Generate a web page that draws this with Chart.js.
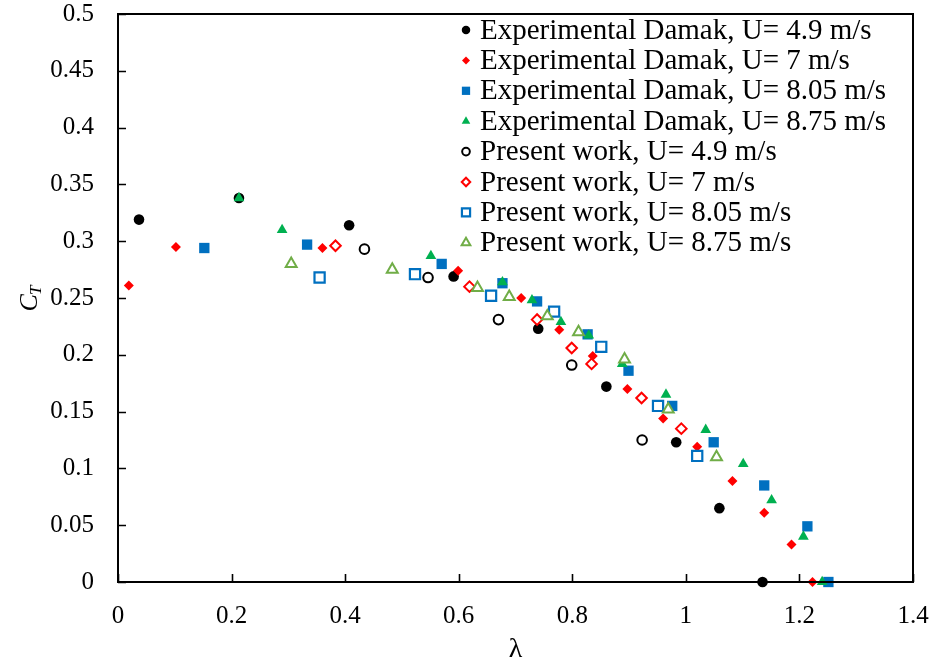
<!DOCTYPE html>
<html>
<head>
<meta charset="utf-8">
<script src="https://cdn.jsdelivr.net/npm/chart.js@4/dist/chart.umd.min.js"></script>
<style>
  html, body { margin: 0; padding: 0; background: #fff; }
</style>
</head>
<body>
<canvas id="ctChart" width="934" height="668"></canvas>
<script>
// Thrust coefficient vs tip speed ratio
const seriesLabels = [
  "Experimental Damak, U= 4.9 m/s",
  "Experimental Damak, U= 7 m/s",
  "Experimental Damak, U= 8.05 m/s",
  "Experimental Damak, U= 8.75 m/s",
  "Present work, U= 4.9 m/s",
  "Present work, U= 7 m/s",
  "Present work, U= 8.05 m/s",
  "Present work, U= 8.75 m/s"
];

// experimental, U = 4.9
const expLam49 = [0.037, 0.213, 0.407, 0.591, 0.740, 0.860, 0.983, 1.059, 1.135];
const expCt49  = [0.319, 0.338, 0.314, 0.269, 0.223, 0.172, 0.123, 0.065, 0.000];
// experimental, U = 7
const expLam7 = [0.019, 0.102, 0.360, 0.599, 0.710, 0.777, 0.836, 0.897, 0.960, 1.020, 1.082, 1.138, 1.186, 1.223];
const expCt7  = [0.261, 0.295, 0.294, 0.274, 0.250, 0.222, 0.199, 0.170, 0.144, 0.119, 0.089, 0.061, 0.033, 0.000];
// experimental, U = 8.05
const expLam805 = [0.152, 0.333, 0.570, 0.677, 0.738, 0.827, 0.899, 0.976, 1.049, 1.138, 1.214, 1.251];
const expCt805  = [0.294, 0.297, 0.280, 0.263, 0.247, 0.218, 0.186, 0.155, 0.123, 0.085, 0.049, 0.000];
// experimental, U = 8.75
const expLam875 = [0.213, 0.289, 0.551, 0.677, 0.729, 0.780, 0.829, 0.888, 0.965, 1.035, 1.101, 1.151, 1.207, 1.240];
const expCt875  = [0.338, 0.310, 0.287, 0.264, 0.248, 0.229, 0.217, 0.192, 0.165, 0.134, 0.104, 0.072, 0.040, 0.000];

// present work
const simLam49 = [0.434, 0.546, 0.670, 0.799, 0.923];
const simCt49  = [0.293, 0.268, 0.231, 0.191, 0.125];
const simLam7 = [0.383, 0.619, 0.738, 0.799, 0.834, 0.922, 0.992];
const simCt7  = [0.296, 0.260, 0.231, 0.206, 0.192, 0.162, 0.135];
const simLam805 = [0.355, 0.523, 0.657, 0.768, 0.851, 0.951, 1.020];
const simCt805  = [0.268, 0.271, 0.252, 0.238, 0.207, 0.155, 0.111];
const simLam875 = [0.305, 0.483, 0.633, 0.689, 0.756, 0.811, 0.892, 0.969, 1.054];
const simCt875  = [0.280, 0.275, 0.259, 0.251, 0.234, 0.220, 0.196, 0.152, 0.110];

const lamSets = [expLam49, expLam7, expLam805, expLam875, simLam49, simLam7, simLam805, simLam875];
const ctSets  = [expCt49, expCt7, expCt805, expCt875, simCt49, simCt7, simCt805, simCt875];

const markers = [
  { style: "circle",   r: 5.3, fill: "#000000", stroke: "#000000", bw: 0 },
  { style: "rectRot",  r: 5,   fill: "#ff0000", stroke: "#ff0000", bw: 0 },
  { style: "rect",     r: 7.3, fill: "#0070c0", stroke: "#0070c0", bw: 0 },
  { style: "triangle", r: 6.2, fill: "#00b050", stroke: "#00b050", bw: 0 },
  { style: "circle",   r: 4.8, fill: "#ffffff", stroke: "#000000", bw: 2 },
  { style: "rectRot",  r: 5.3, fill: "#ffffff", stroke: "#ff0000", bw: 2 },
  { style: "rect",     r: 7.2, fill: "#ffffff", stroke: "#0070c0", bw: 2.2 },
  { style: "triangle", r: 6.3, fill: "#ffffff", stroke: "#70ad47", bw: 2 }
];

const SERIF = "'Liberation Serif', 'Times New Roman', serif";

const datasets = seriesLabels.map((label, i) => ({
  label: label,
  data: lamSets[i].map((x, k) => ({ x: x, y: ctSets[i][k] })),
  pointStyle: markers[i].style,
  pointRadius: markers[i].r,
  pointHoverRadius: markers[i].r,
  backgroundColor: markers[i].fill,
  borderColor: markers[i].stroke,
  pointBorderWidth: markers[i].bw,
  showLine: false,
  clip: false,
  order: -i
}));

// frame, inside ticks, axis titles and the legend box
const decorations = {
  id: "decorations",
  afterDraw(chart) {
    const ctx = chart.ctx;
    const area = chart.chartArea;
    const xs = chart.scales.x, ys = chart.scales.y;
    ctx.save();
    ctx.strokeStyle = "#000";
    ctx.lineWidth = 2;
    ctx.strokeRect(area.left, area.top, area.right - area.left, area.bottom - area.top);

    ctx.lineWidth = 1.6;
    ctx.beginPath();
    ys.ticks.forEach((t, i) => {
      const py = Math.round(ys.getPixelForTick(i)) + 0.5;
      ctx.moveTo(area.left, py);
      ctx.lineTo(area.left + 8, py);
    });
    xs.ticks.forEach((t, i) => {
      const px = Math.round(xs.getPixelForTick(i)) + 0.5;
      ctx.moveTo(px, area.bottom);
      ctx.lineTo(px, area.bottom - 8);
    });
    ctx.stroke();

    // x title
    ctx.fillStyle = "#000";
    ctx.font = "28px " + SERIF;
    ctx.textAlign = "center";
    ctx.textBaseline = "middle";
    ctx.fillText("λ", (area.left + area.right) / 2, 650);

    // y title: C with subscript T
    ctx.translate(28, (area.top + area.bottom) / 2);
    ctx.rotate(-Math.PI / 2);
    ctx.textAlign = "left";
    ctx.textBaseline = "alphabetic";
    ctx.font = "italic 26px " + SERIF;
    const cw = ctx.measureText("C").width;
    ctx.font = "italic 17px " + SERIF;
    const tw = ctx.measureText("T").width;
    const x0 = -(cw + tw) / 2;
    ctx.font = "italic 26px " + SERIF;
    ctx.fillText("C", x0, 9);
    ctx.font = "italic 17px " + SERIF;
    ctx.fillText("T", x0 + cw - 1, 13);
    ctx.restore();

    // legend
    ctx.save();
    ctx.font = "29px " + SERIF;
    ctx.textAlign = "left";
    ctx.textBaseline = "middle";
    const lx = 466, ty = 30, step = 30.4;
    chart.data.datasets.forEach((ds, i) => {
      const m = markers[i];
      const cy = ty + i * step;
      ctx.fillStyle = m.fill;
      ctx.strokeStyle = m.stroke;
      ctx.lineWidth = m.bw;
      Chart.helpers.drawPoint(ctx, {
        pointStyle: m.style,
        radius: m.r * 0.8,
        rotation: 0,
        borderWidth: m.bw
      }, lx, cy);
      ctx.fillStyle = "#000";
      ctx.fillText(ds.label, 480, cy + 1);
    });
    ctx.restore();
  }
};

// keep the plot box fixed: no extra room for end tick labels
function noEdgePadding(scale) {
  scale.paddingTop = 0;
  scale.paddingBottom = 0;
  scale.paddingLeft = 0;
  scale.paddingRight = 0;
}

new Chart(document.getElementById("ctChart"), {
  type: "scatter",
  data: { datasets: datasets },
  options: {
    responsive: false,
    animation: false,
    layout: { padding: { top: 14, right: 21, left: 0, bottom: 0 } },
    plugins: {
      legend: { display: false },
      tooltip: { enabled: false }
    },
    scales: {
      x: {
        type: "linear",
        min: 0,
        max: 1.4,
        ticks: {
          stepSize: 0.2, color: "#000", font: { family: SERIF, size: 25 }, padding: 19,
          callback: v => String(+v.toFixed(1))
        },
        grid: { display: false, drawTicks: false },
        border: { display: false },
        afterFit(scale) { scale.height = 86; noEdgePadding(scale); }
      },
      y: {
        type: "linear",
        min: 0,
        max: 0.5,
        ticks: {
          stepSize: 0.05, color: "#000", font: { family: SERIF, size: 25 }, padding: 24,
          callback: v => String(+v.toFixed(2))
        },
        grid: { display: false, drawTicks: false },
        border: { display: false },
        afterFit(scale) { scale.width = 118; noEdgePadding(scale); }
      }
    }
  },
  plugins: [decorations]
});
</script>
</body>
</html>
